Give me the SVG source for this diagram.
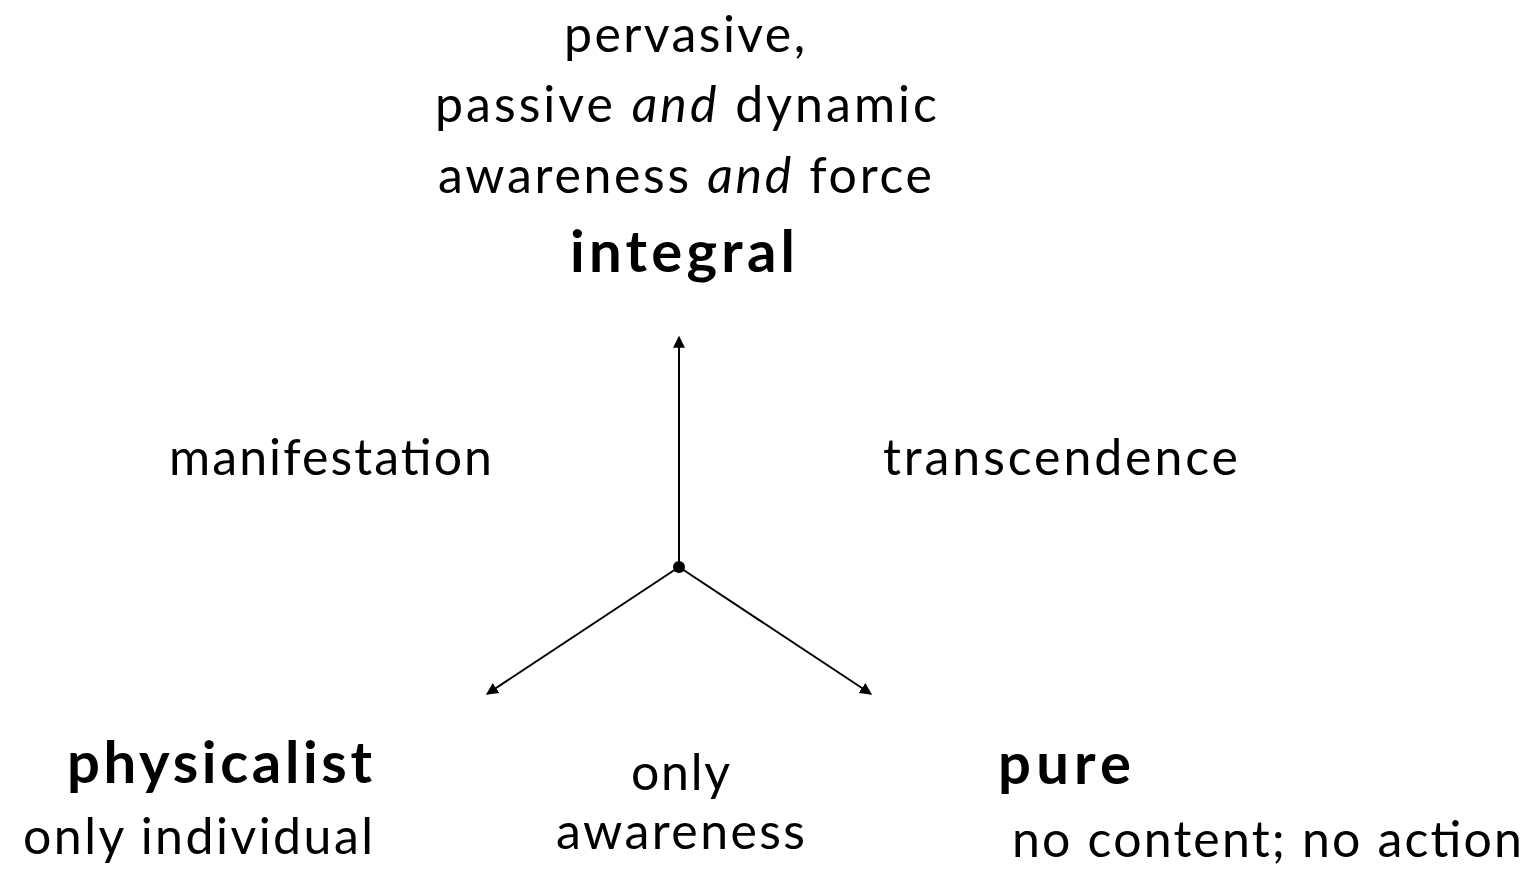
<svg xmlns="http://www.w3.org/2000/svg" width="1535" height="873" viewBox="0 0 1535 873">
<defs>
<style>
.t{font-family:Lato,"Noto Sans",sans-serif;font-size:50px;fill:#000}
.b{font-weight:bold;font-size:58px}
.i{font-style:italic}
.c{stroke:#000;stroke-width:2;fill:none}
</style>
<marker id="ah" viewBox="0 0 10 10" refX="9" refY="5" markerWidth="6" markerHeight="6" orient="auto" markerUnits="strokeWidth">
<path d="M0,0L10,5L0,10z" fill="#000"/>
</marker>
</defs>
<rect width="1535" height="873" fill="#fff"/>
<g id="connectors">
<line class="c" x1="679" y1="567" x2="679" y2="337" marker-end="url(#ah)"/>
<line class="c" x1="679" y1="567" x2="487" y2="694" marker-end="url(#ah)"/>
<line class="c" x1="679" y1="567" x2="871" y2="694" marker-end="url(#ah)"/>
<circle cx="679" cy="567" r="6" fill="#000"/>
</g>
<g id="integral" class="t">
<text x="564" y="52" textLength="241" lengthAdjust="spacing">pervasive,</text>
<text x="435" y="122" textLength="502" lengthAdjust="spacing">passive <tspan class="i">and</tspan> dynamic</text>
<text x="438" y="193" textLength="494" lengthAdjust="spacing">awareness <tspan class="i">and</tspan> force</text>
<text x="570" y="272" class="t b" textLength="225" lengthAdjust="spacing">integral</text>
</g>
<g id="manifestation" class="t"><text x="169" y="475" textLength="323" lengthAdjust="spacing">manifestation</text></g>
<g id="transcendence" class="t"><text x="883" y="475" textLength="355" lengthAdjust="spacing">transcendence</text></g>
<g id="physicalist" class="t">
<text x="67" y="783" class="t b" textLength="305" lengthAdjust="spacing">physicalist</text>
<text x="23" y="854" textLength="350" lengthAdjust="spacing">only individual</text>
</g>
<g id="only-awareness" class="t">
<text x="631" y="790" textLength="99" lengthAdjust="spacing">only</text>
<text x="556" y="849" textLength="249" lengthAdjust="spacing">awareness</text>
</g>
<g id="pure" class="t">
<text x="998" y="784" class="t b" textLength="133" lengthAdjust="spacing">pure</text>
<text x="1012" y="857" textLength="510" lengthAdjust="spacing">no content; no action</text>
</g>
</svg>
